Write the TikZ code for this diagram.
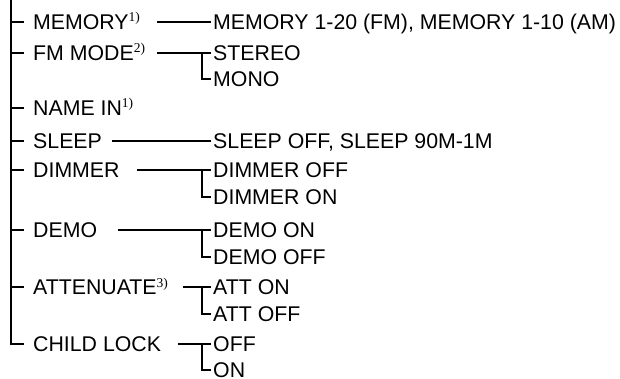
\documentclass[tikz,border=0pt]{standalone}
\usepackage{fontspec}
\setmainfont{Liberation Sans}
\newfontfamily\notefont{Liberation Serif}
\usetikzlibrary{positioning}
\newcommand{\fnmark}[1]{\raisebox{7.5pt}{\notefont\fontsize{13.5}{13.5}\selectfont #1)}}
\tikzset{
  menu/.style={anchor=west, inner xsep=2pt, inner ysep=0pt,
    text height=15pt, text depth=0pt, font=\fontsize{21.3}{21.3}\selectfont},
  link/.style={line width=1.7pt},
}

\begin{document}
\begin{tikzpicture}[x=1pt,y=1pt]
\useasboundingbox (0,0) rectangle (620,-379);
% first level
\node[menu] (memory) at (31,-22) {MEMORY\fnmark{1}};
\node[menu] (fmmode) at (31,-53) {FM MODE\fnmark{2}};
\node[menu] (namein) at (31,-108) {NAME IN\fnmark{1}};
\node[menu] (sleep) at (31,-141) {SLEEP};
\node[menu] (dimmer) at (31,-170) {DIMMER};
\node[menu] (demo) at (31,-230) {DEMO};
\node[menu] (atten) at (31,-287) {ATTENUATE\fnmark{3}};
\node[menu] (childlock) at (31,-344) {CHILD LOCK};
% second level
\node[menu] (memrange) at (211,-22) {MEMORY 1-20 (FM), MEMORY 1-10 (AM)};
\node[menu] (stereo) at (211,-53) {STEREO};
\node[menu] (mono) at (211,-79) {MONO};
\node[menu] (sleepoff) at (211,-141) {SLEEP OFF, SLEEP 90M-1M};
\node[menu] (dimoff) at (211,-170) {DIMMER OFF};
\node[menu] (dimon) at (211,-197) {DIMMER ON};
\node[menu] (demoon) at (211,-230) {DEMO ON};
\node[menu] (demooff) at (211,-257) {DEMO OFF};
\node[menu] (atton) at (211,-287) {ATT ON};
\node[menu] (attoff) at (211,-314) {ATT OFF};
\node[menu] (lockoff) at (211,-344) {OFF};
\node[menu] (lockon) at (211,-370) {ON};
% spine and ticks
\coordinate (top) at (11,0);
\draw[link] (top) |- ([xshift=-7pt]childlock.west);
\draw[link] (top |- memory.west) -- ([xshift=-7pt]memory.west);
\draw[link] (top |- fmmode.west) -- ([xshift=-7pt]fmmode.west);
\draw[link] (top |- namein.west) -- ([xshift=-7pt]namein.west);
\draw[link] (top |- sleep.west) -- ([xshift=-7pt]sleep.west);
\draw[link] (top |- dimmer.west) -- ([xshift=-7pt]dimmer.west);
\draw[link] (top |- demo.west) -- ([xshift=-7pt]demo.west);
\draw[link] (top |- atten.west) -- ([xshift=-7pt]atten.west);
% connectors to second level
\coordinate (memory-out) at (157,-22);
\coordinate (fmmode-out) at (157,-53);
\coordinate (fmmode-fork) at (202,-53);
\coordinate (sleep-out) at (112,-141);
\coordinate (dimmer-out) at (137,-170);
\coordinate (dimmer-fork) at (202,-170);
\coordinate (demo-out) at (118,-230);
\coordinate (demo-fork) at (202,-230);
\coordinate (atten-out) at (183,-287);
\coordinate (atten-fork) at (202,-287);
\coordinate (lock-out) at (178,-344);
\coordinate (lock-fork) at (202,-344);
\draw[link] (memory-out) -- (memrange.west);
\draw[link] (fmmode-out) -- (stereo.west);
\draw[link] (fmmode-fork) |- (mono.west);
\draw[link] (sleep-out) -- (sleepoff.west);
\draw[link] (dimmer-out) -- (dimoff.west);
\draw[link] (dimmer-fork) |- (dimon.west);
\draw[link] (demo-out) -- (demoon.west);
\draw[link] (demo-fork) |- (demooff.west);
\draw[link] (atten-out) -- (atton.west);
\draw[link] (atten-fork) |- (attoff.west);
\draw[link] (lock-out) -- (lockoff.west);
\draw[link] (lock-fork) |- (lockon.west);
\end{tikzpicture}
\end{document}
